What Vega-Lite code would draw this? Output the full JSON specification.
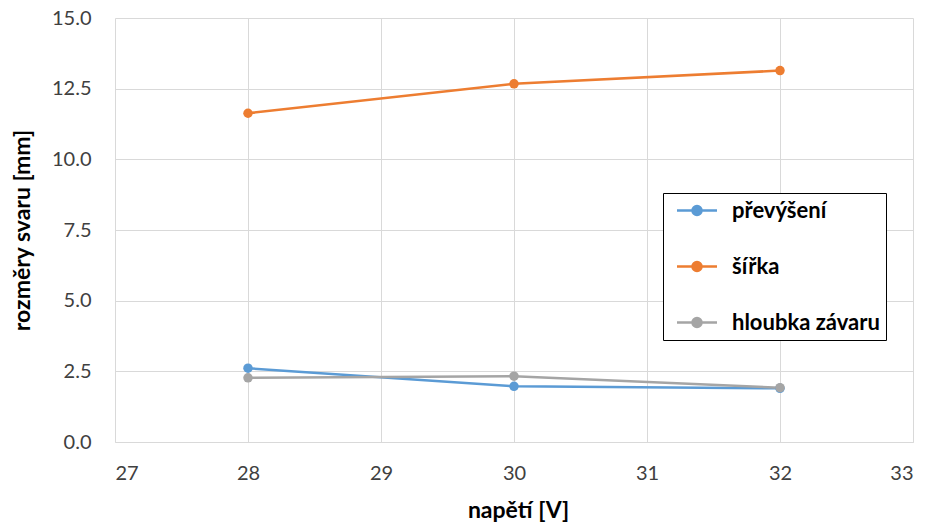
{
  "$schema": "https://vega.github.io/schema/vega-lite/v6.json",
  "width": 798,
  "height": 424,
  "autosize": {"type": "none"},
  "padding": {"left": 115, "top": 18, "right": 15, "bottom": 82},
  "background": "white",
  "config": {"view": {"stroke": null}, "font": "Lato"},
  "data": {
    "values": [
      {"napeti": 28, "serie": "převýšení", "hodnota": 2.61},
      {"napeti": 30, "serie": "převýšení", "hodnota": 1.97},
      {"napeti": 32, "serie": "převýšení", "hodnota": 1.90},
      {"napeti": 28, "serie": "šířka", "hodnota": 11.63},
      {"napeti": 30, "serie": "šířka", "hodnota": 12.67},
      {"napeti": 32, "serie": "šířka", "hodnota": 13.14},
      {"napeti": 28, "serie": "hloubka závaru", "hodnota": 2.27},
      {"napeti": 30, "serie": "hloubka závaru", "hodnota": 2.33},
      {"napeti": 32, "serie": "hloubka závaru", "hodnota": 1.92}
    ]
  },
  "mark": {"type": "line", "strokeWidth": 2.5, "point": {"size": 90, "filled": true}},
  "encoding": {
    "x": {
      "field": "napeti",
      "type": "quantitative",
      "scale": {"domain": [27, 33], "nice": false, "zero": false},
      "axis": {
        "values": [27, 28, 29, 30, 31, 32, 33],
        "format": "d",
        "ticks": false,
        "domainColor": "#d9d9d9",
        "gridColor": "#d9d9d9",
        "labelFont": "Lato",
        "labelFontSize": 20,
        "labelColor": "#404040",
        "labelPadding": 21,
        "title": "napětí [V]",
        "titleFont": "Lato",
        "titleFontSize": 23,
        "titleFontWeight": "bold",
        "titleColor": "#000",
        "titleX": 403,
        "titleY": 75,
        "titleBaseline": "alphabetic",
        "titleAlign": "center"
      }
    },
    "y": {
      "field": "hodnota",
      "type": "quantitative",
      "scale": {"domain": [0, 15], "nice": false},
      "axis": {
        "values": [0, 2.5, 5, 7.5, 10, 12.5, 15],
        "format": ".1f",
        "ticks": false,
        "domain": false,
        "gridColor": "#d9d9d9",
        "labelFont": "Lato",
        "labelFontSize": 20,
        "labelColor": "#404040",
        "labelPadding": 24,
        "title": "rozměry svaru [mm]",
        "titleFont": "Lato",
        "titleFontSize": 23,
        "titleFontWeight": "bold",
        "titleColor": "#000",
        "titleAngle": -90,
        "titleX": -93,
        "titleY": 212,
        "titleBaseline": "middle",
        "titleAlign": "center"
      }
    },
    "color": {
      "field": "serie",
      "type": "nominal",
      "sort": ["převýšení", "šířka", "hloubka závaru"],
      "scale": {
        "domain": ["převýšení", "šířka", "hloubka závaru"],
        "range": ["#5B9BD5", "#ED7D31", "#A5A5A5"]
      },
      "legend": {
        "orient": "none",
        "legendX": 548,
        "legendY": 175,
        "title": null,
        "direction": "vertical",
        "strokeColor": "#000",
        "fillColor": "white",
        "padding": 6,
        "rowPadding": 33,
        "labelFont": "Lato",
        "labelFontSize": 22,
        "labelFontWeight": "bold",
        "labelColor": "#000",
        "labelOffset": 40,
        "labelLimit": 300,
        "symbolType": "M-0.35,0H3.65M1.2,0A0.45,0.45 0 1,0 2.1,0A0.45,0.45 0 1,0 1.2,0Z",
        "symbolSize": 400,
        "symbolStrokeWidth": 2.5,
        "encode": {
          "symbols": {
            "update": {
              "fill": {"scale": "color", "field": "value"},
              "stroke": {"scale": "color", "field": "value"},
              "opacity": {"value": 1}
            }
          }
        }
      }
    }
  }
}
